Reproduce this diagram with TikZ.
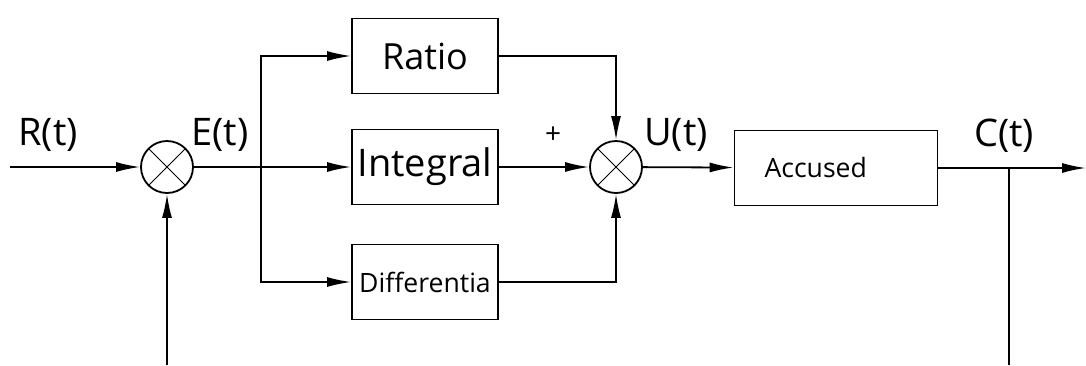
\documentclass[tikz,border=0pt]{standalone}
\usepackage{fontspec}
\setmainfont{Open Sans}
\usetikzlibrary{arrows.meta}
\tikzset{
  block/.style={draw,rectangle,minimum width=73pt,minimum height=37.5pt,inner sep=0pt},
  sumnode/.style={draw,circle,minimum size=26pt,inner sep=0pt,
    path picture={\draw[line width=0.5pt]
      (path picture bounding box.north west) -- (path picture bounding box.south east)
      (path picture bounding box.south west) -- (path picture bounding box.north east);}},
  sig/.style={inner sep=0pt,font=\fontsize{19}{19}\selectfont},
}
\begin{document}
\begin{tikzpicture}[x=0.5pt,y=-0.5pt,line width=0.9pt,>={Latex[length=12pt,width=5pt]}]
\useasboundingbox (0,0) rectangle (1086,365);
% summing points
\node[sumnode] (sa) at (167,167) {};
\node[sumnode] (sb) at (616,167) {};
% blocks
\node[block] (ratio) at (425,56)  {\fontsize{18}{18}\selectfont Ratio};
\node[block] (integ) at (425,167) {\fontsize{19}{19}\selectfont Integral};
\node[block] (diff)  at (425,282) {\fontsize{13.3}{13.3}\selectfont Differentia};
\node[block,minimum width=101.5pt,inner xsep=15pt,text width=71.5pt,align=left]
      (plant) at (836,168) {\fontsize{13.3}{13.3}\selectfont Accused};
% free ends
\coordinate (in)  at (10,167);
\coordinate (br)  at (261,167);
\coordinate (tap) at (1009,168);
\coordinate (out) at (1086,168);
\coordinate (fbl) at (167,365);
\coordinate (fbr) at (1009,365);
% signals
\draw[->] (in) -- (sa);
\draw (sa) -- (br);
\draw[->] (br) -- (integ);
\draw[->] (br) |- (ratio);
\draw[->] (br) |- (diff);
\draw[->] (integ) -- (sb);
\draw[->] (ratio) -| (sb);
\draw[->] (diff) -| (sb);
\draw[->] (sb) -- (plant);
\draw[->] (plant) -- (out);
\draw (tap) -- (fbr);
\draw[->] (fbl) -- (sa);
% labels
\node[sig] (rl) at (48,135)   {R(t)};
\node[sig] (el) at (220,135)  {E(t)};
\node[inner sep=0pt,font=\fontsize{14}{14}\selectfont] (pl) at (553,135) {+};
\node[sig] (ul) at (676,135)  {U(t)};
\node[sig] (cl) at (1004,136) {C(t)};
\end{tikzpicture}
\end{document}
